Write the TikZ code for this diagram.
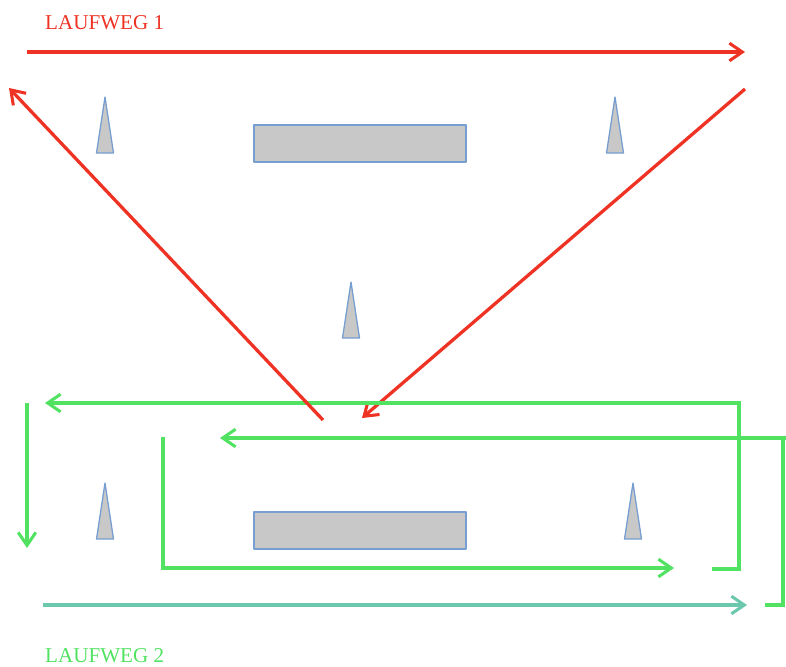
\documentclass[tikz,border=0pt]{standalone}
\usepackage{fontspec}
\setmainfont{Liberation Serif}
\usetikzlibrary{arrows.meta}
\definecolor{routeone}{RGB}{238,50,36}
\definecolor{routetwo}{RGB}{80,226,96}
\definecolor{routetwob}{RGB}{108,200,172}
\definecolor{conefill}{RGB}{200,200,200}
\definecolor{coneedge}{RGB}{118,158,208}
\tikzset{
  route/.style={line width=2.8pt},
  redroute/.style={route, draw=routeone},
  greenroute/.style={route, draw=routetwo},
  tip/.style={-{Straight Barb[length=11pt,width=15pt,line width=2.6pt]}},
  obstacle/.style={fill=conefill, draw=coneedge, line width=1.1pt, line join=round},
  label/.style={font=\fontsize{18}{20}\selectfont, inner sep=0pt, anchor=west},
}
\newcommand\conemark[1]{%
  \draw[obstacle] (#1) -- ++(8.5,56) -- ++(-17,0) -- cycle;}
\begin{document}
\begin{tikzpicture}[x=0.03cm,y=-0.03cm]
\useasboundingbox (0,0) rectangle (786,666);

% cones and benches
\conemark{105,97}
\conemark{615,97}
\conemark{351,282}
\conemark{105,483}
\conemark{633,483}
\draw[obstacle] (254,125) rectangle (466,162);
\draw[obstacle] (254,512) rectangle (466,549);

% route labels
\node[label, text=routeone] (l1) at (45,23) {LAUFWEG 1};
\node[label, text=routetwo] (l2) at (45,656) {LAUFWEG 2};

% route 1
\coordinate (a0) at (27,52);
\coordinate (a1) at (745,52);
\coordinate (b0) at (745,89);
\coordinate (b1) at (362,418);
\coordinate (c0) at (323,420);
\coordinate (c1) at (9,88);
\draw[redroute, tip] (a0) -- (a1);
\draw[redroute, tip] (b0) -- (b1);

% route 2, outer loop
\coordinate (o0) at (712,569);
\coordinate (o1) at (739,569);
\coordinate (o2) at (739,403);
\coordinate (o3) at (45,403);
\draw[greenroute, tip, line join=miter] (o0) -- (o1) -- (o2) -- (o3);
\coordinate (v0) at (27,403);
\coordinate (v1) at (27,548);
\draw[greenroute, tip] (v0) -- (v1);

% route 2, inner loop
\coordinate (i0) at (786,438);
\coordinate (i1) at (220,438);
\draw[greenroute, tip] (i0) -- (i1);
\coordinate (j0) at (163,437);
\coordinate (j1) at (163,568);
\coordinate (j2) at (674,568);
\draw[greenroute, tip, line join=miter] (j0) -- (j1) -- (j2);
\coordinate (k0) at (783,438);
\coordinate (k1) at (783,605);
\coordinate (k2) at (765,605);
\draw[greenroute, line join=miter] (k0) -- (k1) -- (k2);
\coordinate (m0) at (43,605);
\coordinate (m1) at (747,605);
\draw[route, draw=routetwob, tip] (m0) -- (m1);

\draw[redroute, tip] (c0) -- (c1);
\end{tikzpicture}
\end{document}
